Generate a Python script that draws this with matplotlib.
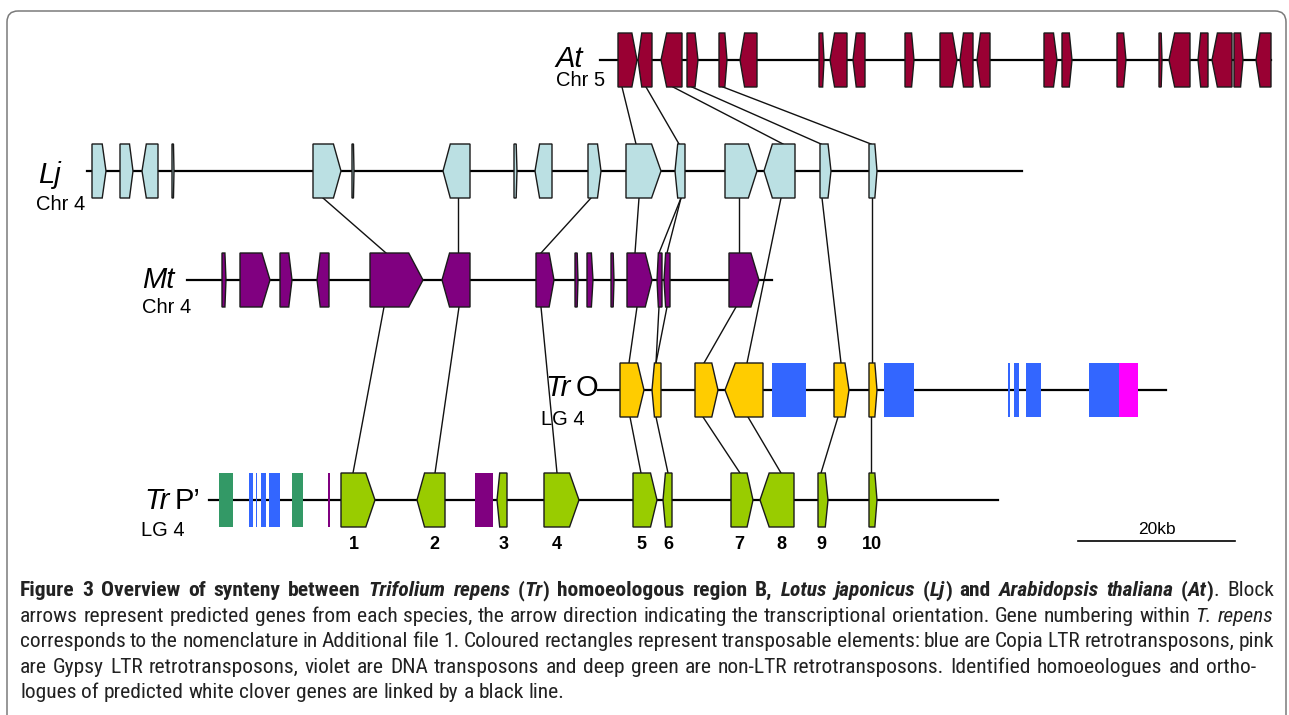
import matplotlib
matplotlib.use('Agg')
import matplotlib.pyplot as plt
from matplotlib.patches import Polygon, Rectangle, FancyBboxPatch
from matplotlib import font_manager

plt.rcParams['font.family'] = ['Liberation Sans', 'DejaVu Sans']

# genes: (start, end, strand) in picture kb-units along each track
at_genes = [(618, 637, 1), (638, 652, -1), (661, 682, -1), (687, 698, 1), (719, 727, 1),
            (740, 757, -1), (819, 824, 1), (830, 847, -1), (853, 865, -1), (905, 914, 1),
            (940, 957, 1), (960, 973, -1), (977, 990, -1), (1044, 1057, 1), (1062, 1072, 1),
            (1117, 1126, 1), (1159, 1162, 1), (1169, 1190, -1), (1198, 1208, -1),
            (1212, 1232, -1), (1234, 1243, 1), (1256, 1271, -1)]
lj_genes = [(92, 106, 1), (120, 133, 1), (142, 158, -1), (172, 174, 1), (313, 341, 1),
            (352, 354, 1), (443, 470, -1), (514, 517, 1), (535, 552, -1), (588, 601, 1),
            (626, 661, 1), (675, 685, -1), (725, 757, 1), (764, 795, -1), (820, 831, 1),
            (869, 877, 1)]
mt_genes = [(222, 226, 1), (240, 270, 1), (280, 292, 1), (317, 329, -1), (370, 423, 1),
            (442, 470, -1), (536, 554, 1), (575, 578, 1), (587, 593, 1), (611, 614, 1),
            (627, 652, 1), (657, 662, -1), (664, 670, -1), (729, 759, 1)]
tro_genes = [(620, 644, 1), (652, 661, -1), (695, 718, 1), (725, 763, -1), (834, 849, 1),
             (869, 877, 1)]
trp_genes = [(341, 375, 1), (417, 445, -1), (497, 507, -1), (544, 579, 1), (633, 657, 1),
             (663, 672, -1), (731, 753, 1), (760, 794, -1), (818, 828, 1), (869, 877, 1)]
trp_numbers = ['1', '2', '3', '4', '5', '6', '7', '8', '9', '10']

# transposable elements: (start, end, kind)
tro_te = [(772, 806, 'copia'), (884, 914, 'copia'), (1008, 1010, 'copia'), (1014, 1019, 'copia'),
          (1026, 1041, 'copia'), (1089, 1119, 'copia'), (1119, 1138, 'gypsy')]
trp_te = [(219, 233, 'nonltr'), (249, 253, 'copia'), (256, 257, 'copia'), (261, 266, 'copia'),
          (269, 280, 'copia'), (292, 303, 'nonltr'), (328, 329.5, 'dna'), (475, 493, 'dna')]

# homology links: (upper track, x, lower track, x)
links = [('At', 622, 'Lj', 636), ('At', 646, 'Lj', 679), ('At', 673, 'Lj', 783),
         ('At', 692, 'Lj', 821), ('At', 723, 'Lj', 871),
         ('Lj', 323, 'Mt', 386), ('Lj', 458, 'Mt', 458), ('Lj', 591, 'Mt', 541),
         ('Lj', 639, 'Mt', 635), ('Lj', 681, 'Mt', 659), ('Lj', 681, 'Mt', 667),
         ('Lj', 739, 'Mt', 739),
         ('Lj', 781, 'TrO', 747), ('Lj', 822, 'TrO', 841), ('Lj', 872, 'TrO', 872),
         ('Mt', 384, 'TrP', 353), ('Mt', 459, 'TrP', 435), ('Mt', 541, 'TrP', 557),
         ('Mt', 637, 'TrO', 629), ('Mt', 659, 'TrO', 656), ('Mt', 667, 'TrO', 656),
         ('Mt', 736, 'TrO', 704),
         ('TrO', 630, 'TrP', 641), ('TrO', 656, 'TrP', 668), ('TrO', 703, 'TrP', 740),
         ('TrO', 748, 'TrP', 781), ('TrO', 838, 'TrP', 821), ('TrO', 871, 'TrP', 871)]

caption_lines = [
    [("Figure 3 Overview of synteny between ", "b"), ("Trifolium repens", "bi"), (" (", "b"),
     ("Tr", "bi"), (") homoeologous region B, ", "b"), ("Lotus japonicus", "bi"), (" (", "b"),
     ("Lj", "bi"), (") and ", "b"), ("Arabidopsis thaliana", "bi"), (" (", "b"), ("At", "bi"),
     (")", "b"), (". Block", "r")],
    [("arrows represent predicted genes from each species, the arrow direction indicating the "
      "transcriptional orientation. Gene numbering within ", "r"), ("T. repens", "i")],
    [("corresponds to the nomenclature in Additional file 1. Coloured rectangles represent "
      "transposable elements: blue are Copia LTR retrotransposons, pink", "r")],
    [("are Gypsy LTR retrotransposons, violet are DNA transposons and deep green are non-LTR "
      "retrotransposons. Identified homoeologues and ortho-", "r")],
    [("logues of predicted white clover genes are linked by a black line.", "r")],
]

gene_colors = {'At': '#990033', 'Lj': '#bbe0e3', 'Mt': '#800080', 'TrO': '#ffcc00', 'TrP': '#99cc00'}
te_colors = {'copia': '#3366ff', 'gypsy': '#ff00ff', 'dna': '#800080', 'nonltr': '#339966'}

tracks = {
    'At': dict(y=60, start=600, end=1271, genes=at_genes, te=[]),
    'Lj': dict(y=171, start=87, end=1022, genes=lj_genes, te=[]),
    'Mt': dict(y=280, start=187, end=772, genes=mt_genes, te=[]),
    'TrO': dict(y=390, start=598, end=1166, genes=tro_genes, te=tro_te),
    'TrP': dict(y=500, start=209, end=998, genes=trp_genes, te=trp_te),
}
half = 27

fig = plt.figure(figsize=(12.89, 7.15), dpi=100)
ax = fig.add_axes([0, 0, 1, 1])
ax.set_xlim(0, 1289)
ax.set_ylim(715, 0)
ax.axis('off')
renderer = fig.canvas.get_renderer()

# frame around the figure
ax.add_patch(FancyBboxPatch((7, 11), 1279, 720, boxstyle='round,pad=0,rounding_size=11',
                            fc='none', ec='#7a7a7a', lw=1.1, clip_on=False))


def gene_poly(x0, x1, strand, yc):
    tip = 0.27 * (x1 - x0)
    top, bot = yc - half, yc + half
    if strand > 0:
        pts = [(x0, top), (x1 - tip, top), (x1, yc), (x1 - tip, bot), (x0, bot)]
    else:
        pts = [(x1, top), (x0 + tip, top), (x0, yc), (x0 + tip, bot), (x1, bot)]
    return pts


for name, tr in tracks.items():
    yc = tr['y']
    ax.plot([tr['start'], tr['end']], [yc, yc], color='black', lw=1.6, zorder=1)
    for x0, x1, s in tr['genes']:
        ax.add_patch(Polygon(gene_poly(x0, x1, s, yc), closed=True, fc=gene_colors[name],
                             ec='#1a1a1a', lw=1.0, joinstyle='miter', zorder=3))
    for x0, x1, kind in tr['te']:
        ax.add_patch(Rectangle((x0, yc - half), x1 - x0, 2 * half, fc=te_colors[kind],
                               ec='none', zorder=3))

for up, xu, lo, xl in links:
    ax.plot([xu, xl], [tracks[up]['y'] + half, tracks[lo]['y'] - half],
            color='#111111', lw=1.0, zorder=0.5)

# gene numbers under Tr P'
for (x0, x1, s), num in zip(trp_genes, trp_numbers):
    tip = 0.27 * (x1 - x0)
    xc = (x0 + x1 - tip) / 2 if s > 0 else (x0 + tip + x1) / 2
    ax.text(xc, 549, num, ha='center', va='baseline', fontsize=13, fontweight='bold')

# track labels
big = 21
small = 14.5
ax.text(555, 67, 'At', fontsize=big, style='italic', va='baseline')
ax.text(556, 86, 'Chr 5', fontsize=small, va='baseline')
ax.text(38, 183, 'Lj', fontsize=big, style='italic', va='baseline')
ax.text(36, 210, 'Chr 4', fontsize=small, va='baseline')
ax.text(142, 288, 'Mt', fontsize=big, style='italic', va='baseline')
ax.text(142, 313, 'Chr 4', fontsize=small, va='baseline')
for x, y, rest in [(545, 396, 'O'), (144, 509, 'P\u2019')]:
    t = ax.text(x, y, 'Tr', fontsize=big, style='italic', va='baseline')
    tx = x + t.get_window_extent(renderer).width
    ax.text(tx + 5, y, rest, fontsize=big, va='baseline')
ax.text(541, 425, 'LG 4', fontsize=small, va='baseline')
ax.text(141, 536, 'LG 4', fontsize=small, va='baseline')

# scale bar
ax.plot([1078, 1235], [541, 541], color='black', lw=1.2)
ax.text(1157, 534, '20kb', fontsize=12.5, ha='center', va='baseline')

# caption, justified
names = {f.name for f in font_manager.fontManager.ttflist}
cap_font = next((n for n in ['Liberation Sans Narrow', 'Roboto Condensed', 'Open Sans Condensed',
                             'DejaVu Sans Condensed'] if n in names), 'Liberation Sans')
styles = {'r': dict(fontweight='normal', fontstyle='normal'),
          'b': dict(fontweight='bold', fontstyle='normal'),
          'i': dict(fontweight='normal', fontstyle='italic'),
          'bi': dict(fontweight='bold', fontstyle='italic')}
cap_x0 = 20
cap_x1 = [1274, 1273, 1274, 1256, None]
cap_y = [596, 621.5, 647, 673, 698]


def split_words(segs):
    words, cur = [], []
    for text, st in segs:
        for k, p in enumerate(text.split(' ')):
            if k > 0 and cur:
                words.append(cur)
                cur = []
            if p:
                cur.append((p, st))
    if cur:
        words.append(cur)
    return words


def measure(text, st, fs):
    t = ax.text(0, 0, text, fontsize=fs, family=[cap_font, 'DejaVu Sans'], **styles[st])
    w = t.get_window_extent(renderer).width
    t.remove()
    return w


fs = 13
word_lists = [split_words(s) for s in caption_lines]
natural = []
for words in word_lists[:4]:
    tot = sum(measure(p, st, fs) for w in words for p, st in w)
    natural.append(tot + 3.5 * (len(words) - 1))
fit = min((x1 - cap_x0) / n for x1, n in zip(cap_x1[:4], natural))
fs = min(15.5, fs * fit * 0.995)

space = measure('a a', 'r', fs) - measure('aa', 'r', fs)
for words, x1, y in zip(word_lists, cap_x1, cap_y):
    widths = [[measure(p, st, fs) for p, st in w] for w in words]
    total = sum(sum(ws) for ws in widths)
    gap = space if x1 is None else (x1 - cap_x0 - total) / (len(words) - 1)
    x = cap_x0
    for w, ws in zip(words, widths):
        for (p, st), pw in zip(w, ws):
            ax.text(x, y, p, fontsize=fs, family=[cap_font, 'DejaVu Sans'], color='#222222',
                    va='baseline', **styles[st])
            x += pw
        x += gap

fig.savefig('out.png', dpi=100)
